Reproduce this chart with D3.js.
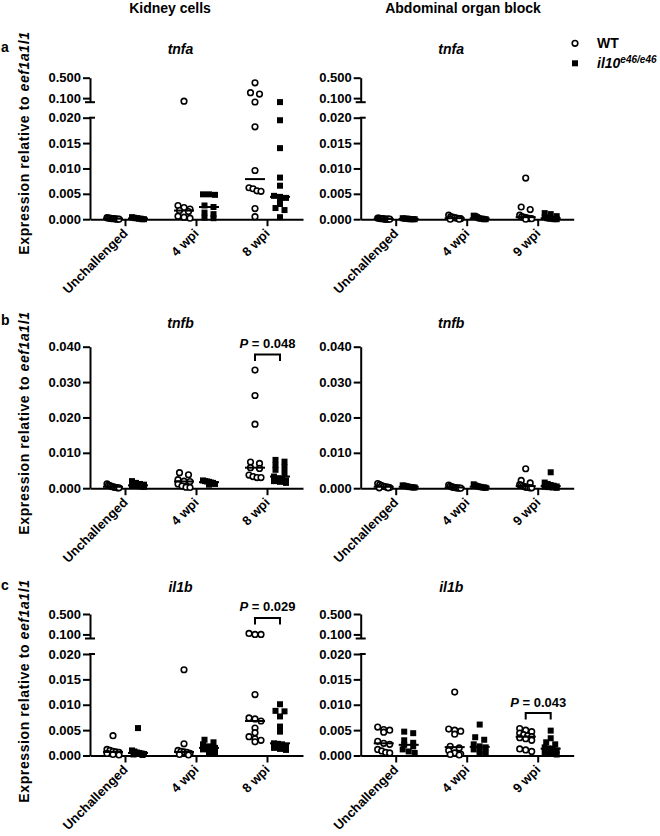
<!DOCTYPE html>
<html>
<head>
<meta charset="utf-8">
<script src="https://cdn.jsdelivr.net/npm/d3@7"></script>
<style>
body { margin: 0; background: #fff; }
svg { font-family: "Liberation Sans", Arial, sans-serif; }
.axis path, .axis line { stroke: #000; stroke-width: 2; }
.axis text { font-size: 13px; font-weight: bold; fill: #000; }
</style>
</head>
<body>
<svg id="chart" width="660" height="836"></svg>
<script>
// categories / groups
var kidneyCats = ['Unchallenged', '4 wpi', '8 wpi'];
var abdominalCats = ['Unchallenged', '4 wpi', '9 wpi'];
var genotypes = ['WT', 'il10'];

// tick values
var lowTicks = [0, 0.005, 0.010, 0.015, 0.020];
var highTicks = [0.1, 0.5];
var tnfbTicks = [0, 0.010, 0.020, 0.030, 0.040];

// expression values, one sub-array per category
var tnfaKidneyWT = [
  [0.0003, 0.0002, 0.0002, 0.0001, 0.0001, 0.0001, 0.0000, 0.0000, 0.0000],
  [0.040, 0.0027, 0.0023, 0.0020, 0.0017, 0.0015, 0.0006, 0.0004, 0.0002],
  [0.40, 0.206, 0.18, 0.024, 0.0182, 0.0096, 0.0062, 0.0060, 0.0056, 0.0055, 0.0021, 0.0005]
];
var tnfaKidneyIl10 = [
  [0.0004, 0.0003, 0.0002, 0.0002, 0.0001, 0.0001, 0.0000, 0.0000],
  [0.0049, 0.0049, 0.0048, 0.0027, 0.0024, 0.0013, 0.0010, 0.0003, 0.0002],
  [0.022, 0.0195, 0.0140, 0.0082, 0.0066, 0.0046, 0.0044, 0.0042, 0.0038, 0.0030, 0.0022, 0.0018, 0.0004]
];
var tnfaAbdWT = [
  [0.0002, 0.0002, 0.0001, 0.0001, 0.0001, 0.0000, 0.0000, 0.0000, 0.0000, 0.0000],
  [0.0008, 0.0005, 0.0004, 0.0003, 0.0002, 0.0001, 0.0001, 0.0000, 0.0000],
  [0.0081, 0.0024, 0.0019, 0.0008, 0.0005, 0.0004, 0.0003, 0.0002, 0.0001, 0.0001, 0.0000]
];
var tnfaAbdIl10 = [
  [0.0002, 0.0001, 0.0001, 0.0001, 0.0000, 0.0000, 0.0000, 0.0000],
  [0.0007, 0.0006, 0.0004, 0.0002, 0.0001, 0.0001, 0.0000, 0.0000],
  [0.0012, 0.0010, 0.0006, 0.0004, 0.0002, 0.0001, 0.0001, 0.0000, 0.0000]
];
var tnfbKidneyWT = [
  [0.0012, 0.0009, 0.0007, 0.0005, 0.0004, 0.0003, 0.0002, 0.0001, 0.0001],
  [0.0044, 0.0038, 0.0024, 0.0020, 0.0019, 0.0012, 0.0006, 0.0003, 0.0002],
  [0.0334, 0.0262, 0.0181, 0.0074, 0.0070, 0.0058, 0.0056, 0.0037, 0.0033, 0.0030, 0.0030]
];
var tnfbKidneyIl10 = [
  [0.0020, 0.0015, 0.0012, 0.0010, 0.0008, 0.0007, 0.0006, 0.0005, 0.0004],
  [0.0022, 0.0020, 0.0019, 0.0018, 0.0016, 0.0015, 0.0012, 0.0010],
  [0.0080, 0.0075, 0.0065, 0.0060, 0.0052, 0.0043, 0.0033, 0.0028, 0.0025, 0.0022, 0.0020, 0.0018, 0.0015]
];
var tnfbAbdWT = [
  [0.0013, 0.0010, 0.0007, 0.0005, 0.0004, 0.0003, 0.0002, 0.0001, 0.0001],
  [0.0009, 0.0006, 0.0004, 0.0003, 0.0002, 0.0001, 0.0001, 0.0000, 0.0000],
  [0.0055, 0.0022, 0.0015, 0.0010, 0.0008, 0.0006, 0.0004, 0.0003, 0.0002, 0.0001, 0.0001]
];
var tnfbAbdIl10 = [
  [0.0008, 0.0007, 0.0006, 0.0005, 0.0004, 0.0003, 0.0003, 0.0002, 0.0002],
  [0.0011, 0.0008, 0.0006, 0.0005, 0.0004, 0.0003, 0.0002, 0.0002, 0.0001],
  [0.0045, 0.0016, 0.0012, 0.0009, 0.0007, 0.0005, 0.0004, 0.0003, 0.0002, 0.0001]
];
var il1bKidneyWT = [
  [0.0039, 0.0012, 0.0010, 0.0008, 0.0007, 0.0006, 0.0004, 0.0002, 0.0001],
  [0.0169, 0.0023, 0.0010, 0.0008, 0.0007, 0.0006, 0.0004, 0.0002, 0.0001],
  [0.12, 0.10, 0.10, 0.0120, 0.0074, 0.0072, 0.0068, 0.0054, 0.0045, 0.0037, 0.0033, 0.0030, 0.0027]
];
var il1bKidneyIl10 = [
  [0.0054, 0.0010, 0.0008, 0.0006, 0.0005, 0.0004, 0.0003, 0.0002, 0.0001],
  [0.0031, 0.0026, 0.0022, 0.0018, 0.0015, 0.0012, 0.0009, 0.0006, 0.0004],
  [0.0101, 0.0088, 0.0087, 0.0077, 0.0057, 0.0047, 0.0024, 0.0023, 0.0022, 0.0018, 0.0015, 0.0013, 0.0011]
];
var il1bAbdWT = [
  [0.0056, 0.0051, 0.0050, 0.0046, 0.0028, 0.0024, 0.0022, 0.0012, 0.0009, 0.0006, 0.0005],
  [0.0125, 0.0052, 0.0050, 0.0048, 0.0042, 0.0018, 0.0015, 0.0010, 0.0005, 0.0003, 0.0002, 0.0001],
  [0.0053, 0.0050, 0.0047, 0.0044, 0.0041, 0.0039, 0.0037, 0.0035, 0.0033, 0.0030, 0.0013, 0.0011, 0.0008]
];
var il1bAbdIl10 = [
  [0.0047, 0.0044, 0.0030, 0.0025, 0.0021, 0.0018, 0.0012, 0.0008, 0.0005],
  [0.0061, 0.0036, 0.0031, 0.0022, 0.0018, 0.0016, 0.0012, 0.0008, 0.0005, 0.0003],
  [0.0049, 0.0034, 0.0026, 0.0022, 0.0016, 0.0014, 0.0013, 0.0010, 0.0007, 0.0005, 0.0003, 0.0002]
];

// layout
var svg = d3.select('#chart');
var colX = [90, 360.7];
var rowTop = [77.7, 346.7, 614];
var titleY = [53.5, 327.5, 592];
var labelY = [52, 325, 590];
var yTitleMid = [143, 423, 691];
var plotW = 213, plotH = 141.5;

var panels = [
  {row: 0, col: 0, gene: 'tnfa', cats: kidneyCats, wt: tnfaKidneyWT, ko: tnfaKidneyIl10, broken: true},
  {row: 0, col: 1, gene: 'tnfa', cats: abdominalCats, wt: tnfaAbdWT, ko: tnfaAbdIl10, broken: true},
  {row: 1, col: 0, gene: 'tnfb', cats: kidneyCats, wt: tnfbKidneyWT, ko: tnfbKidneyIl10, broken: false, p: {cat: 2, text: '0.048'}},
  {row: 1, col: 1, gene: 'tnfb', cats: abdominalCats, wt: tnfbAbdWT, ko: tnfbAbdIl10, broken: false},
  {row: 2, col: 0, gene: 'il1b', cats: kidneyCats, wt: il1bKidneyWT, ko: il1bKidneyIl10, broken: true, p: {cat: 2, text: '0.029'}},
  {row: 2, col: 1, gene: 'il1b', cats: abdominalCats, wt: il1bAbdWT, ko: il1bAbdIl10, broken: true, p: {cat: 2, text: '0.043'}}
];

function makeY(top, broken) {
  var bottom = top + plotH;
  if (!broken) {
    var s = d3.scaleLinear().domain([0, 0.04]).range([bottom, top]);
    return {f: s, low: s};
  }
  var low = d3.scaleLinear().domain([0, 0.02]).range([bottom, bottom - 101.5]);
  var high = d3.scaleLinear().domain([0.02, 0.5]).range([top + 24.5, top]);
  return {f: function (v) { return v <= 0.02 ? low(v) : high(v); }, low: low, high: high};
}

// points that sit at about the same height are spread side by side
function swarm(vals, yf, cx) {
  var pts = vals.slice().sort(d3.descending).map(function (v) { return {v: v, y: yf(v)}; });
  var rows = [], cur = null;
  pts.forEach(function (p) {
    if (!cur || p.y - cur.y0 > 4) { cur = {y0: p.y, pts: []}; rows.push(cur); }
    cur.pts.push(p);
  });
  rows.forEach(function (r) {
    var n = r.pts.length, step = n > 1 ? Math.min(9, 12 / (n - 1)) : 0;
    r.pts.forEach(function (p, i) { p.x = cx + (i - (n - 1) / 2) * step; });
  });
  return pts;
}

function drawPanel(p) {
  var g = svg.append('g');
  var x0 = colX[p.col], top = rowTop[p.row], bottom = top + plotH;
  var x = d3.scaleBand().domain(p.cats).range([x0, x0 + plotW]);
  var sub = d3.scalePoint().domain(genotypes).range([-12.5, 12.5]);
  var y = makeY(top, p.broken);
  var fmt = d3.format('.3f');

  // y axis
  var lowAxis = d3.axisLeft(y.low).tickValues(p.broken ? lowTicks : tnfbTicks)
    .tickFormat(fmt).tickSize(7).tickSizeOuter(0).tickPadding(2);
  g.append('g').attr('class', 'axis').attr('transform', 'translate(' + x0 + ',0)').call(lowAxis);
  if (p.broken) {
    var highAxis = d3.axisLeft(y.high).tickValues(highTicks)
      .tickFormat(fmt).tickSize(7).tickSizeOuter(0).tickPadding(2);
    g.append('g').attr('class', 'axis').attr('transform', 'translate(' + x0 + ',0)').call(highAxis);
    g.append('line').attr('x1', x0 - 1).attr('x2', x0 + 5)
      .attr('y1', y.low(0.02)).attr('y2', y.low(0.02)).attr('stroke', '#000').attr('stroke-width', 2);
    g.append('line').attr('x1', x0 - 5).attr('x2', x0 + 5)
      .attr('y1', y.high(0.02)).attr('y2', y.high(0.02)).attr('stroke', '#000').attr('stroke-width', 2);
  }

  // x axis
  var xAxis = d3.axisBottom(x).tickSize(7).tickSizeOuter(0);
  var xg = g.append('g').attr('class', 'axis').attr('transform', 'translate(0,' + bottom + ')').call(xAxis);
  xg.selectAll('text')
    .attr('x', 0).attr('y', 0).attr('dy', 0)
    .attr('transform', 'translate(3,15) rotate(-45)')
    .style('text-anchor', 'end');

  // points and medians
  [p.wt, p.ko].forEach(function (series, si) {
    var geno = genotypes[si];
    series.forEach(function (vals, ci) {
      var cx = x(p.cats[ci]) + x.bandwidth() / 2 + sub(geno);
      var pts = swarm(vals, y.f, cx);
      if (geno === 'WT') {
        g.selectAll(null).data(pts).enter().append('circle')
          .attr('cx', function (d) { return d.x; })
          .attr('cy', function (d) { return d.y; })
          .attr('r', 2.8).attr('fill', '#fff').attr('stroke', '#000').attr('stroke-width', 1.6);
      } else {
        g.selectAll(null).data(pts).enter().append('rect')
          .attr('x', function (d) { return d.x - 3; })
          .attr('y', function (d) { return d.y - 3; })
          .attr('width', 6).attr('height', 6).attr('fill', '#000');
      }
      var my = y.f(d3.median(vals));
      g.append('line').attr('x1', cx - 10).attr('x2', cx + 10)
        .attr('y1', my).attr('y2', my).attr('stroke', '#000').attr('stroke-width', 2);
    });
  });

  // significance bracket
  if (p.p) {
    var c = x(p.cats[p.p.cat]) + x.bandwidth() / 2;
    var by = y.f(Math.max(d3.max(p.wt[p.p.cat]), d3.max(p.ko[p.p.cat]))) - 15.5;
    var xa = c + sub('WT'), xb = c + sub('il10');
    g.append('path')
      .attr('d', 'M' + xa + ',' + (by + 6.5) + 'V' + by + 'H' + xb + 'V' + (by + 6.5))
      .attr('fill', 'none').attr('stroke', '#000').attr('stroke-width', 2);
    var t = g.append('text').attr('x', c).attr('y', by - 6.5).attr('text-anchor', 'middle')
      .attr('font-size', 13).attr('font-weight', 'bold');
    t.append('tspan').attr('font-style', 'italic').text('P');
    t.append('tspan').text(' = ' + p.p.text);
  }

  // gene title
  g.append('text').attr('x', x0 + plotW / 2 - 16).attr('y', titleY[p.row])
    .attr('text-anchor', 'middle').attr('font-size', 14).attr('font-weight', 'bold')
    .attr('font-style', 'italic').text(p.gene);

  // y title and panel letter, left column only
  if (p.col === 0) {
    var yt = svg.append('text')
      .attr('transform', 'translate(29,' + yTitleMid[p.row] + ') rotate(-90)')
      .attr('text-anchor', 'middle').attr('font-size', 14).attr('font-weight', 'bold')
      .attr('letter-spacing', 0.6);
    yt.append('tspan').text('Expression relative to  ');
    yt.append('tspan').attr('font-style', 'italic').text('eef1a1l1');
    svg.append('text').attr('x', 1).attr('y', labelY[p.row])
      .attr('font-size', 14).attr('font-weight', 'bold').text(['a', 'b', 'c'][p.row]);
  }
}

panels.forEach(drawPanel);

// column titles
svg.append('text').attr('x', 170).attr('y', 13).attr('text-anchor', 'middle')
  .attr('font-size', 14).attr('font-weight', 'bold').text('Kidney cells');
svg.append('text').attr('x', 463).attr('y', 13).attr('text-anchor', 'middle')
  .attr('font-size', 14).attr('font-weight', 'bold').text('Abdominal organ block');

// legend
var legend = svg.append('g').attr('transform', 'translate(575,43.3)');
legend.append('circle').attr('r', 2.8).attr('fill', '#fff').attr('stroke', '#000').attr('stroke-width', 1.6);
legend.append('rect').attr('x', -3).attr('y', 17).attr('width', 6).attr('height', 6).attr('fill', '#000');
legend.append('text').attr('x', 22).attr('y', 5).attr('font-size', 14).attr('font-weight', 'bold').text('WT');
var lt = legend.append('text').attr('x', 22).attr('y', 25).attr('font-size', 14)
  .attr('font-weight', 'bold').attr('font-style', 'italic');
lt.append('tspan').text('il10');
lt.append('tspan').attr('font-size', 10).attr('dy', -5).text('e46/e46');
</script>
</body>
</html>
